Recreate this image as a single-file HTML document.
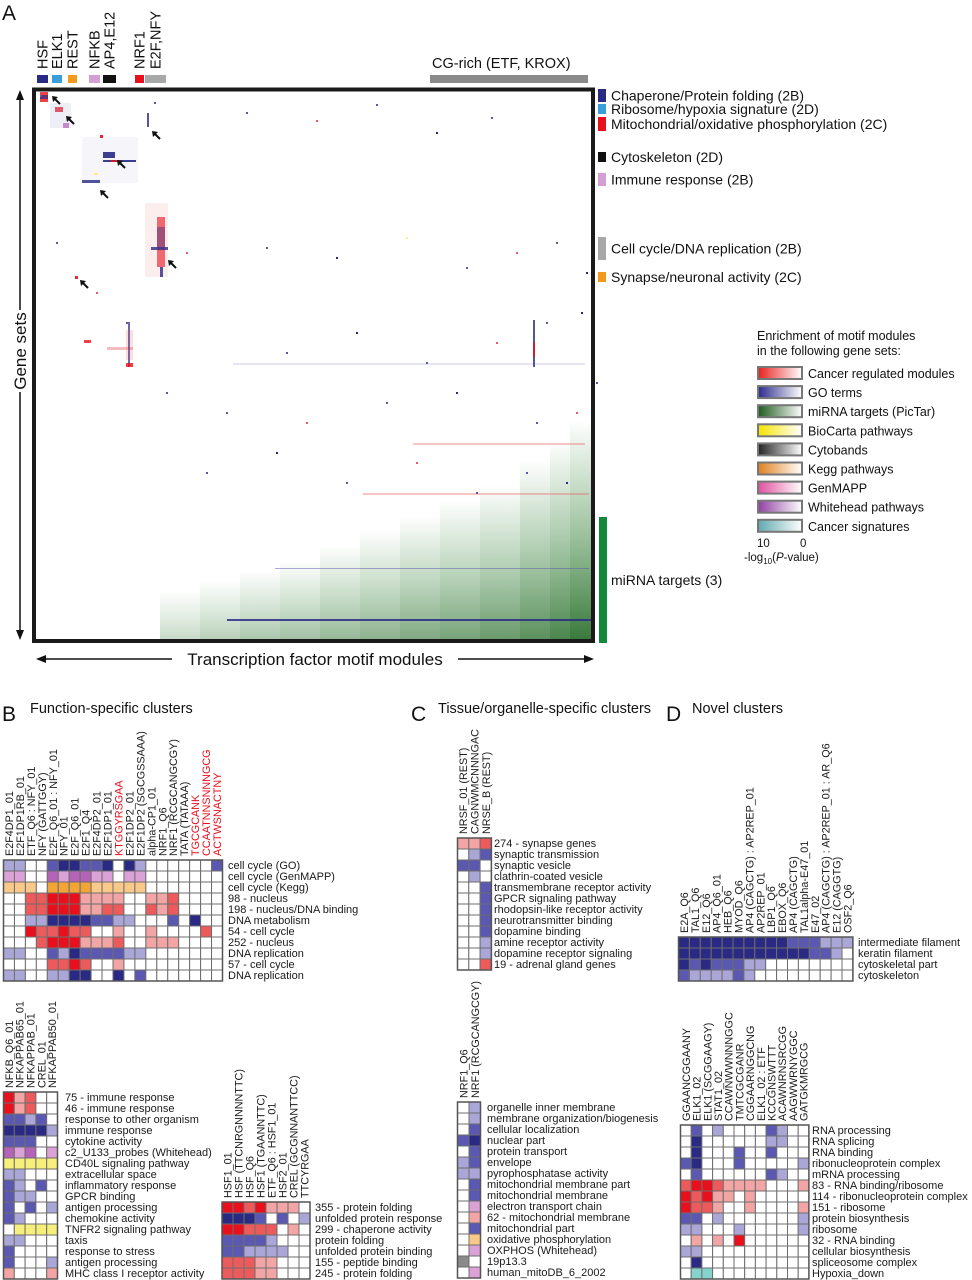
<!DOCTYPE html>
<html><head><meta charset="utf-8">
<style>
html,body{margin:0;padding:0;background:#fff;}
svg{display:block;font-family:"Liberation Sans",Arial,sans-serif;}
</style></head>
<body>
<svg id="fig" width="972" height="1280" viewBox="0 0 972 1280" xmlns="http://www.w3.org/2000/svg">
<defs id="defs"></defs>
<text x="2" y="20" font-size="21" fill="#111">A</text>
<g id="topgroups"></g>
<rect x="430" y="75" width="158" height="8" fill="#8a8a8a"/>
<text x="432" y="68" font-size="14.5" fill="#111">CG-rich (ETF, KROX)</text>
<g id="mainplot"></g>
<rect x="34" y="89.5" width="559" height="551.5" fill="none" stroke="#1a1a1a" stroke-width="4"/>
<g>
<line x1="20" y1="96" x2="20" y2="634" stroke="#111" stroke-width="1.5"/>
<polygon points="20,90 16,100 24,100" fill="#111"/>
<polygon points="20,640 16,630 24,630" fill="#111"/>
<rect x="11" y="310" width="18" height="82" fill="#fff"/>
<text transform="translate(26,351) rotate(-90)" text-anchor="middle" font-size="17" fill="#111">Gene sets</text>
</g>
<g>
<line x1="42" y1="659" x2="588" y2="659" stroke="#111" stroke-width="1.5"/>
<polygon points="36,659 46,655 46,663" fill="#111"/>
<polygon points="594,659 584,655 584,663" fill="#111"/>
<rect x="172" y="648" width="286" height="22" fill="#fff"/>
<text x="315" y="665" text-anchor="middle" font-size="17" fill="#111">Transcription factor motif modules</text>
</g>
<rect x="599" y="517" width="8" height="126" fill="#12893a"/>
<text x="611" y="585" font-size="14" fill="#111">miRNA targets (3)</text>
<g id="clusterlegend"></g>
<g id="enrichlegend"></g>
<text x="2" y="721" font-size="21" fill="#111">B</text>
<text x="30" y="713" font-size="14.5" fill="#111">Function-specific clusters</text>
<text x="411" y="721" font-size="21" fill="#111">C</text>
<text x="438" y="713" font-size="14.5" fill="#111">Tissue/organelle-specific clusters</text>
<text x="666" y="721" font-size="21" fill="#111">D</text>
<text x="692" y="713" font-size="14.5" fill="#111">Novel clusters</text>
<g id="heatmaps"></g>
</svg>
<script>
const NS='http://www.w3.org/2000/svg';
const svg=document.getElementById('fig');
function mk(tag,attrs,parent){const e=document.createElementNS(NS,tag);for(const k in attrs)e.setAttribute(k,attrs[k]);parent.appendChild(e);return e;}

const groupNames=['HSF','ELK1','REST','NFKB','AP4,E12','NRF1','E2F,NFY'];
const groupColors=['#2a2a85','#3a9ed8','#f39a1c','#d4a0d4','#111111','#e8101c','#a8a8a8'];
const groupStart=[37,52,68,89,103,135,145];
const groupEnd=[48,62,77,100,116,144,166];

const legendNames=['Chaperone/Protein folding (2B)','Ribosome/hypoxia signature (2D)','Mitochondrial/oxidative phosphorylation (2C)','Cytoskeleton (2D)','Immune response (2B)','Cell cycle/DNA replication (2B)','Synapse/neuronal activity (2C)'];
const legendColors=['#2a2a85','#3a9ed8','#e8101c','#111111','#d4a0d4','#a8a8a8','#f39a1c'];
const legendTop=[89,104,117,152,173,237,272];
const legendBottom=[102,114,131,162,186,260,282];

const enrichNames=['Cancer regulated modules','GO terms','miRNA targets (PicTar)','BioCarta pathways','Cytobands','Kegg pathways','GenMAPP','Whitehead pathways','Cancer signatures'];
const enrichColors=['#e8201c','#2a2a8c','#1e5a1e','#f5e400','#222222','#e08020','#e050a0','#9040a0','#60a8b0'];

const clMod=[4,4,19,14,27,111,46,67,67,75,46,64,58,109,121,121,115,124,39,48,71,92,90,90,497,497,377,327,239,191,197];
const clSet=[0,3,15,11,31,21,45,60,68,68,88,43,81,111,125,135,155,175,184,248,255,230,271,238,228,250,351,401,476,527,271];
const clW=[8,8,8,21,6,2,56,12,33,8,18,3,4,23,8,8,17,3,3,7,26,2,7,7,2,2,172,226,314,364,352];
const clH=[10,4,5,25,5,14,46,6,2,2,3,3,2,74,50,20,3,10,3,3,3,45,4,30,47,15,2,2,1,2,2];
const clC=['X','N','X','B','P','N','B','N','N','X','N','X','y','R','X','N','N','N','X','X','R','N','X','R','N','X','R','R','B','N','B'];
const clD=[0.8,0.7,0.7,0.1,0.7,0.8,0.06,0.9,0.9,0.8,0.8,0.9,0.9,0.1,0.6,0.4,0.8,0.8,0.9,0.8,0.4,0.7,0.8,0.2,0.8,0.8,0.35,0.35,0.5,0.85,0.15];

const dotMod=[4,118,210,280,340,400,455,20,150,230,300,370,430,480,520,550,90,60,250,320,390,460,510,545,130,190,270,350,420,500,540,560,170,240,310,380,440,490,530,555];
const dotSet=[3,10,20,28,12,40,25,150,160,155,165,145,175,160,150,180,230,200,260,240,270,250,230,220,300,320,330,310,300,330,320,290,380,360,390,370,400,380,390,360];
const dotC=['B','B','B','R','B','N','B','B','R','B','N','y','B','R','B','N','B','R','B','N','B','R','B','N','B','B','R','B','N','B','R','B','B','N','B','R','B','B','N','B'];

const greenBandStart=[124,164,204,244,284,324,364,404,444,484,514,534];
const greenTopSet=[498,488,478,468,453,438,423,408,393,368,348,328];
const greenMax=[0.25,0.32,0.38,0.42,0.48,0.52,0.58,0.62,0.68,0.75,0.82,0.9];

const arrowHeadX=[52,66,152,117,100,168,80];
const arrowHeadY=[96,116,131,160,190,260,280];

const X0=36,Y0=92,PW=555,PH=547;
const xS=m=>X0+m; const yS=s=>Y0+s;
const pal={N:'#2a2a85',B:'#5a58b0',b:'#aaa7d8',X:'#e8101c',R:'#ec5a5c',r:'#f3a4a4',p:'#dba2d8',P:'#b463b8',y:'#f7ef7c',o:'#f9c98a',O:'#f2a437',g:'#8a8a8a',c:'#86d2cc','.':'#ffffff'};

const tg=document.getElementById('topgroups');
groupNames.forEach((n,i)=>{
  const r=mk('rect',{x:groupStart[i],y:75,width:groupEnd[i]-groupStart[i],height:8,fill:groupColors[i]},tg);
  
  
  const cx=(groupStart[i]+groupEnd[i])/2+5;
  const t=mk('text',{transform:`translate(${cx},69) rotate(-90)`,'font-size':14.5,fill:'#111'},tg);
  t.textContent=n;
  
  
});

const mp=document.getElementById('mainplot');
const defs=document.getElementById('defs');
greenBandStart.forEach((g,i)=>{
  const end=i<greenBandStart.length-1?greenBandStart[i+1]:PW;
  const gr=mk('linearGradient',{id:'gg'+i,x1:0,y1:0,x2:0,y2:1},defs);
  mk('stop',{offset:'0','stop-color':'#2f7d32','stop-opacity':0},gr);
  mk('stop',{offset:'0.5','stop-color':'#2f7d32','stop-opacity':greenMax[i]*0.5},gr);
  mk('stop',{offset:'1','stop-color':'#256b28','stop-opacity':greenMax[i]},gr);
  const r=mk('rect',{x:xS(g),y:yS(greenTopSet[i]),width:end-g,height:PH-greenTopSet[i],fill:'url(#gg'+i+')'},mp);
  
  
});
clMod.forEach((m,i)=>{
  const r=mk('rect',{x:xS(m),y:yS(clSet[i]),width:clW[i],height:clH[i],fill:pal[clC[i]],opacity:clD[i]},mp);
  
  
});
dotMod.forEach((m,i)=>{
  const r=mk('rect',{x:xS(m),y:yS(dotSet[i]),width:2,height:2,fill:pal[dotC[i]]},mp);
  
  
});
arrowHeadX.forEach((x,i)=>{
  const y=arrowHeadY[i];
  const g=mk('g',{},mp);
  
  
  mk('line',{x1:x+3,y1:y+3,x2:x+8,y2:y+8,stroke:'#111','stroke-width':2},g);
  mk('polygon',{points:`${x},${y} ${x+6},${y+1} ${x+1},${y+6}`,fill:'#111'},g);
});

const cl=document.getElementById('clusterlegend');
legendNames.forEach((n,i)=>{
  const r=mk('rect',{x:598,y:legendTop[i],width:8,height:legendBottom[i]-legendTop[i],fill:legendColors[i]},cl);
  
  
  const t=mk('text',{x:611,y:(legendTop[i]+legendBottom[i])/2+5,'font-size':14,fill:'#111'},cl);
  t.textContent=n;
  
  
});

const el=document.getElementById('enrichlegend');
const t1=mk('text',{x:757,y:340,'font-size':12.5,fill:'#111'},el);t1.textContent='Enrichment of motif modules';


const t2=mk('text',{x:757,y:355,'font-size':12.5,fill:'#111'},el);t2.textContent='in the following gene sets:';


enrichNames.forEach((n,i)=>{
  const gr=mk('linearGradient',{id:'eg'+i,x1:0,y1:0,x2:1,y2:0},defs);
  mk('stop',{offset:'0','stop-color':enrichColors[i]},gr);
  mk('stop',{offset:'1','stop-color':'#ffffff'},gr);
  const y=367+i*19.1;
  const r=mk('rect',{x:758,y:y,width:44,height:12,fill:'url(#eg'+i+')',stroke:'#777','stroke-width':2},el);
  
  
  const t=mk('text',{x:808,y:y+11,'font-size':12.5,fill:'#111'},el);
  t.textContent=n;
  
  
});
const t3=mk('text',{x:757,y:547,'font-size':11.5,fill:'#111'},el);t3.textContent='10';


const t4=mk('text',{x:800,y:547,'font-size':11.5,fill:'#111'},el);t4.textContent='0';


const t5=mk('text',{x:744,y:561,'font-size':11.5,fill:'#111'},el);
t5.innerHTML='-log<tspan font-size="8" dy="3">10</tspan><tspan dy="-3">(</tspan><tspan font-style="italic">P</tspan>-value)';



const bTopCols=['E2F4DP1_01','E2F1DP1RB_01','ETF_Q6 : NFY_01','NFY (GATTGGY)','E2F_Q6_01 : NFY_01','NFY_01','E2F_Q6_01','E2F1_Q4','E2F4DP2_01','E2F1DP1_01','KTGGYRSGAA','E2F1DP2_01','E2F1DP2 (SGCGSSAAA)','alpha-CP1_01','NRF1_Q6','NRF1 (RCGCANGCGY)','TATA (TATAAA)','TGCGCANK','CCAATNNSNNNGCG','ACTWSNACTNY'];
const bTopRed=[10,17,18,19];
const bTopRows=['cell cycle (GO)','cell cycle (GenMAPP)','cell cycle (Kegg)','98 - nucleus','198 - nucleus/DNA binding','DNA metabolism','54 - cell cycle','252 - nucleus','DNA replication','57 - cell cycle','DNA replication'];
const bTopCells=['bb..BNNBBN.Nb......B','pp..PpPPpp.pp.......','ooo.OOOOooooo.......','..RRXXXrrrr..rrR....','..RRXXXrrRR..RrR....','..bbNNNNBBbb...B.N..','..XRRXRR..r..r....R.','...RXXXrrrR..rrr....','bb..BbNBBBBbb.......','....RRXR..r.........','bb..bbNN..N.B.......'];

const immCols=['NFKB_Q6_01','NFKAPPAB65_01','NFKAPPAB_01','CREL_01','NFKAPPAB50_01'];
const immRows=['75 - immune response','46 - immune response','response to other organism','immune response','cytokine activity','c2_U133_probes (Whitehead)','CD40L signaling pathway','extracellular space','inflammatory response','GPCR binding','antigen processing','chemokine activity','TNFR2 signaling pathway','taxis','response to stress','antigen processing','MHC class I receptor activity'];
const immCells=['XrR..','XrR..','BBbB.','NNNNb','BBB..','PpP.p','yyyyy','bb...','Bb.B.','Bbb..','B.B.b','Bb...','.yyyy','bb...','B....','B...b','r...r'];

const hsfCols=['HSF1_01','HSF (TTCNRGNNNNTTC)','HSF_Q6','HSF1 (TGAANNTTC)','ETF_Q6 : HSF1_01','HSF2_01','CREL (GCGNNANTTCC)','TTCYRGAA'];
const hsfRows=['355 - protein folding','unfolded protein response','299 - chaperone activity','protein folding','unfolded protein binding','155 - peptide binding','245 - protein folding'];
const hsfCells=['XXRXrrr.','NNNB.B.b','XXRRR.r.','BBBBb...','BBbbbb..','RRRrr...','RRRrr...'];

const cTopCols=['NRSF_01 (REST)','CAGNWMCNNNGAC','NRSE_B (REST)'];
const cTopRows=['274 - synapse genes','synaptic transmission','synaptic vesicle','clathrin-coated vesicle','transmembrane receptor activity','GPCR signaling pathway','rhodopsin-like receptor activity','neurotransmitter binding','dopamine binding','amine receptor activity','dopamine receptor signaling','19 - adrenal gland genes'];
const cTopCells=['rrR','.bB','BB.','.b.','..B','..B','..B','..B','..B','..b','..b','..R'];

const cBotCols=['NRF1_Q6','NRF1 (RCGCANGCGY)'];
const cBotRows=['organelle inner membrane','membrane organization/biogenesis','cellular localization','nuclear part','protein transport','envelope','pyrophosphatase activity','mitochondrial membrane part','mitochondrial membrane','electron transport chain','62 - mitochondrial membrane','mitochondrial part','oxidative phosphorylation','OXPHOS (Whitehead)','19p13.3','human_mitoDB_6_2002'];
const cBotCells=['.b','.b','.B','BN','.B','bB','bb','.B','.B','.p','.r','.B','.o','.p','g.','.p'];

const dTopCols=['E2A_Q6','TAL1_Q6','E12_Q6','AP4_Q6_01','HEB_Q6','MYOD_Q6','AP4 (CAGCTG) : AP2REP_01','AP2REP_01','LBP1_Q6','EBOX_Q6','AP4 (CAGCTG)','TAL1alpha-E47_01','E47_02','AP4 (CAGCTG) : AP2REP_01 : AR_Q6','E12 (CAGGTG)','OSF2_Q6'];
const dTopRows=['intermediate filament','keratin filament','cytoskeletal part','cytoskeleton'];
const dTopCells=['NNNNNNNNNNBBBbbb','NNNNNNNNNNNNBBb.','NBNBBBbb........','BbbbbBb.........'];

const dBotCols=['GGAANCGGAANY','ELK1_02','ELK1 (SCGGAAGY)','STAT1_02','CCAWNWWNNNGGC','TMTCGCGANR','CGGAARNGGCNG','ELK1_02 : ETF','KCCGNSWTTT','ACAWNRNSRCGG','AAGWWRNYGGC','GATGKMRGCG'];
const dBotRows=['RNA processing','RNA splicing','RNA binding','ribonucleoprotein complex','mRNA processing','83 - RNA binding/ribosome','114 - ribonucleoprotein complex','151 - ribosome','protein biosynthesis','ribosome','32 - RNA binding','cellular biosynthesis','spliceosome complex','Hypoxia_down'];
const dBotCells=['.B.b....Bb..','.N......bb..','.N...B..B...','BN...B.....b','.B......Bb..','RXXRrrrr...r','XRXrr.r.....','XRRr..r....r','BB.b.......b','bb...b.....b','.r.r.X......','bb..........','.N..........','.cc.........'];

const hm=document.getElementById('heatmaps');
function heat(name,x0,y0,cw,ch,labX,cols,rows,cells,redCols){
  const g=mk('g',{},hm);
  
  
  cols.forEach((c,i)=>{
    const t=mk('text',{transform:`translate(${x0+i*cw+cw/2+4},${y0-4}) rotate(-90)`,'font-size':10.8,fill:(redCols&&redCols.includes(i))?'#e8101c':'#1a1a1a'},g);
    t.textContent=c;
    
    
  });
  rows.forEach((r,j)=>{
    const s=cells[j];
    for(let i=0;i<cols.length;i++){
      const ch0=s[i]||'.';
      const rc=mk('rect',{x:x0+i*cw,y:y0+j*ch,width:cw,height:ch,fill:pal[ch0],stroke:'#6e6e6e','stroke-width':1},g);
      
      
    }
    const t=mk('text',{x:labX,y:y0+j*ch+ch-2,'font-size':11,fill:'#1a1a1a'},g);
    t.textContent=r;
    
    
  });
  const fr=mk('rect',{x:x0,y:y0,width:cw*cols.length,height:ch*rows.length,fill:'none',stroke:'#555','stroke-width':1.5},g);
  
  
}
heat('cell-cycle-heatmap',3.5,860,10.95,11,228,bTopCols,bTopRows,bTopCells,bTopRed);
heat('immune-heatmap',3.5,1092,10.8,11,65,immCols,immRows,immCells,null);
heat('protein-folding-heatmap',222,1202,11,11,315,hsfCols,hsfRows,hsfCells,null);
heat('synapse-heatmap',457.5,838,11.3,11,494,cTopCols,cTopRows,cTopCells,null);
heat('mitochondria-heatmap',457.5,1102,11.5,11,487,cBotCols,cBotRows,cBotCells,null);
heat('cytoskeleton-heatmap',678.5,937,10.9,11,858,dTopCols,dTopRows,dTopCells,null);
heat('ribosome-heatmap',680.5,1125,10.7,11,812,dBotCols,dBotRows,dBotCells,null);
</script>
</body></html>
